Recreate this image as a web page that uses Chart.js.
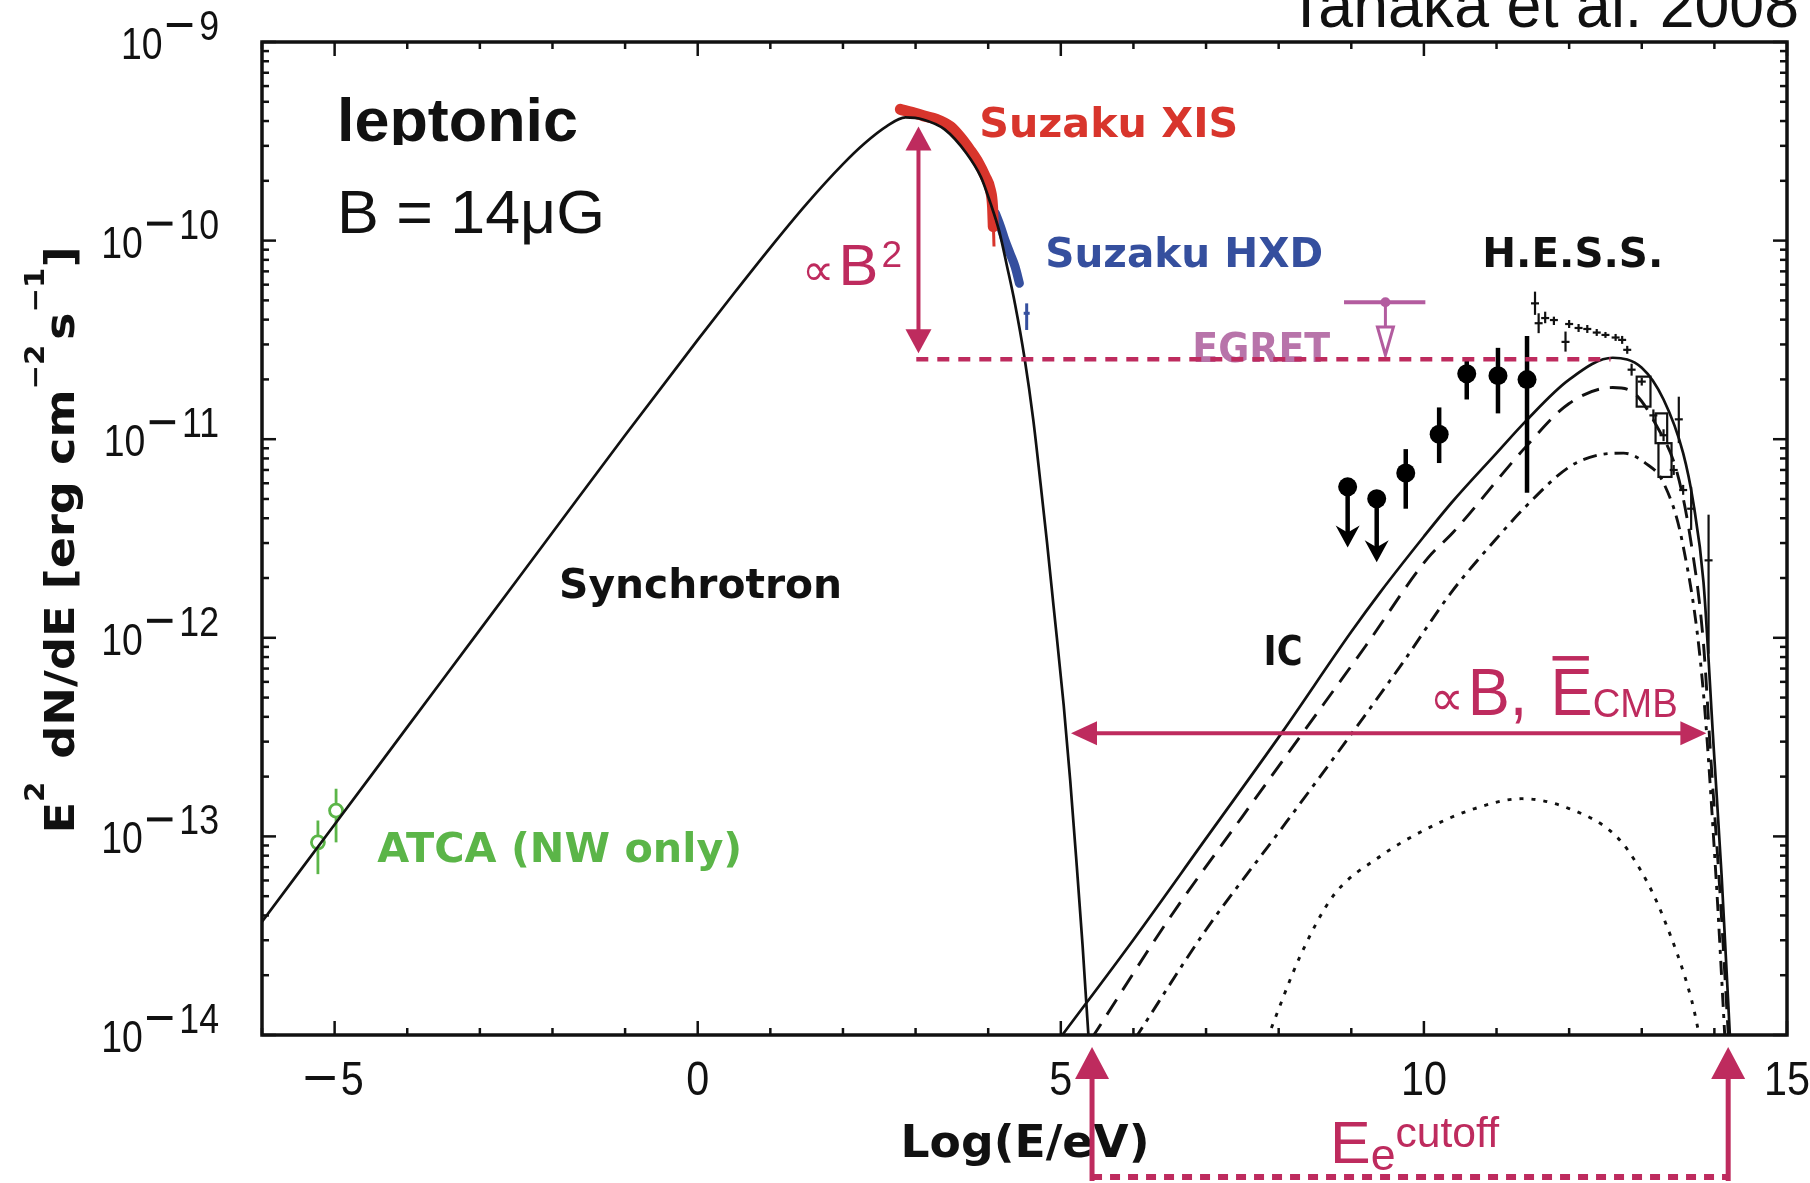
<!DOCTYPE html>
<html>
<head>
<meta charset="utf-8">
<title>Leptonic SED</title>
<script src="https://cdn.jsdelivr.net/npm/chart.js@4.4.1/dist/chart.umd.min.js"></script>
<style>
  html, body { margin: 0; padding: 0; background: #ffffff; }
  #box { position: relative; width: 1810px; height: 1183px; }
</style>
</head>
<body>
<div id="box"><canvas id="sed" width="1810" height="1183"></canvas></div>
<script>
// Energies are log10(E / eV); fluxes are log10(E^2 dN/dE / erg cm^-2 s^-1)

// Synchrotron model
const synchLogE = [-6.0, -5.0, -4.0, -3.0, -2.0, -1.0, 0.0, 0.5, 1.0, 1.5, 2.0, 2.3, 2.6, 2.86, 3.1, 3.4, 3.7, 3.9, 4.03, 4.15, 4.26, 4.37, 4.5, 4.62, 4.72, 4.81, 4.9, 5.04, 5.13, 5.22, 5.3, 5.38, 5.42];
const synchLogF = [-13.43, -12.94, -12.45, -11.96, -11.47, -10.98, -10.50, -10.265, -10.035, -9.815, -9.615, -9.51, -9.425, -9.38, -9.39, -9.44, -9.56, -9.68, -9.81, -9.95, -10.13, -10.32, -10.59, -10.90, -11.22, -11.52, -11.84, -12.34, -12.72, -13.15, -13.55, -14.0, -14.2];

// Inverse-Compton total (solid)
const icLogE = [4.98, 6.0, 7.0, 8.04, 9.0, 9.4, 10.0, 10.38, 11.0, 11.4, 12.0, 12.6, 13.0, 13.3, 13.57, 13.71, 13.85, 13.99, 14.1, 14.22];
const icLogF = [-14.02, -13.52, -13.01, -12.48, -11.97, -11.77, -11.49, -11.32, -11.07, -10.91, -10.70, -10.59, -10.64, -10.80, -11.07, -11.32, -11.72, -12.55, -13.2, -14.05];

// IC components: dashed, dash-dot, dotted
const icDashLogE = [5.42, 6.5, 7.5, 8.33, 9.2, 10.05, 10.4, 11.4, 12.0, 12.6, 12.9, 13.2, 13.48, 13.67, 13.85, 13.95, 14.08, 14.2];
const icDashLogF = [-14.02, -13.41, -12.90, -12.48, -12.04, -11.60, -11.47, -11.04, -10.82, -10.74, -10.77, -10.93, -11.16, -11.50, -12.03, -12.6, -13.3, -14.05];
const icDashDotLogE = [6.02, 7.0, 8.0, 9.01, 9.7, 10.38, 11.0, 11.4, 12.0, 12.4, 12.75, 13.05, 13.3, 13.56, 13.83, 14.02, 14.15];
const icDashDotLogF = [-14.02, -13.47, -12.98, -12.48, -12.13, -11.77, -11.50, -11.34, -11.14, -11.08, -11.07, -11.12, -11.22, -11.52, -12.2, -13.19, -14.05];
const icDotLogE = [7.84, 8.3, 8.75, 9.4, 10.05, 10.7, 11.35, 12.0, 12.65, 13.0, 13.3, 13.69, 13.82];
const icDotLogF = [-14.02, -13.6, -13.30, -13.10, -12.96, -12.86, -12.81, -12.86, -13.0, -13.18, -13.41, -13.83, -14.05];

// Suzaku XIS and HXD spectra
const xisLogE = [2.79, 2.95, 3.11, 3.29, 3.48, 3.61, 3.75, 3.87, 3.96, 4.03, 4.06, 4.07];
const xisLogF = [-9.339, -9.354, -9.372, -9.389, -9.426, -9.476, -9.544, -9.611, -9.678, -9.745, -9.829, -9.93];
const hxdLogE = [4.10, 4.17, 4.23, 4.30, 4.37, 4.43];
const hxdLogF = [-9.863, -9.93, -9.997, -10.064, -10.131, -10.215];
const hxdLastLogE = [4.53];
const hxdLastLogF = [-10.366];
const hxdLastLo = [-10.45];
const hxdLastHi = [-10.316];

// ATCA radio points
const atcaLogE = [-5.23, -4.98];
const atcaLogF = [-13.03, -12.87];
const atcaLo = [-13.19, -13.03];
const atcaHi = [-12.92, -12.76];

// GeV points (first two are upper limits)
const gevLogE = [8.95, 9.35, 9.75, 10.21, 10.59, 11.02, 11.42];
const gevLogF = [-11.24, -11.30, -11.17, -10.975, -10.67, -10.68, -10.70];
const gevLo = [-11.545, -11.62, -11.35, -11.12, -10.80, -10.87, -11.27];
const gevHi = [-11.24, -11.30, -11.05, -10.84, -10.59, -10.54, -10.48];
const gevUpperLimit = [true, true, false, false, false, false, false];

// H.E.S.S. spectrum
const hessLogE = [11.53, 11.58, 11.67, 11.79, 11.95, 12.00, 12.13, 12.25, 12.38, 12.50, 12.64, 12.73, 12.80, 12.86, 13.00, 13.16, 13.30, 13.44, 13.51, 13.57, 13.68, 13.92];
const hessLogF = [-10.316, -10.416, -10.39, -10.40, -10.51, -10.42, -10.44, -10.445, -10.463, -10.475, -10.488, -10.50, -10.55, -10.65, -10.71, -10.88, -10.98, -11.155, -10.90, -11.256, -11.35, -11.61];
const hessLo = [-10.374, -10.466, -10.416, -10.425, -10.559, -10.44, -10.46, -10.465, -10.48, -10.49, -10.505, -10.52, -10.57, -10.68, -10.73, -10.91, -11.01, -11.18, -11.02, -11.28, -11.457, -12.08];
const hessHi = [-10.257, -10.366, -10.358, -10.383, -10.458, -10.40, -10.42, -10.425, -10.445, -10.46, -10.47, -10.48, -10.53, -10.62, -10.69, -10.85, -10.95, -11.13, -10.786, -11.23, -11.24, -11.38];
// systematic boxes
const hessBoxE0 = [12.93, 13.19, 13.23];
const hessBoxE1 = [13.12, 13.35, 13.41];
const hessBoxF0 = [-10.836, -11.02, -11.19];
const hessBoxF1 = [-10.685, -10.87, -11.02];

// EGRET upper limit
const egretLogE = [9.47];
const egretLogF = [-10.31];
const egretBandE = [8.90, 10.02];
const egretLimitTo = [-10.576];

// Scaling annotations
const b2ArrowLogE = [3.04];
const b2ArrowLogF = [-9.426, -10.567];
const icPeakLevel = [-10.598];
const icPeakSpan = [3.01, 12.57];
const shiftLevel = [-12.48];
const shiftSpan = [5.14, 13.89];
const cutoffLogE = [5.43, 14.19];

// Axis ticks
const xTickLabels = [-5, 0, 5, 10, 15];
const yDecades = [-9, -10, -11, -12, -13, -14];

const INK = '#111111';
const MAG = '#BE2B5E';
const RED = '#D8352C';
const BLUE = '#354F9E';
const GREEN = '#5BB548';
const EGRET = '#B35C9F';

function pts(xs, ys) { return xs.map((x, i) => ({ x: x, y: Math.pow(10, ys[i]) })); }

function curve(label, xs, ys, dash, color, width) {
  return {
    label: label, data: pts(xs, ys), showLine: true,
    borderColor: color || INK, borderWidth: width || 2.7, borderDash: dash || [],
    pointRadius: 0, pointHoverRadius: 0, fill: false,
    tension: 0.35, cubicInterpolationMode: 'monotone',
    borderCapStyle: 'butt', borderJoinStyle: 'round'
  };
}

// draw a run of text pieces (font, vertical shift, optional rule) with horizontal scaling
function drawRun(ctx, pieces, x, y, opt) {
  ctx.save();
  let total = 0;
  const ws = pieces.map(p => {
    let w;
    if (p.rule) w = p.rule;
    else { ctx.font = p.font; w = ctx.measureText(p.t).width; }
    w += (p.gap || 0);
    total += w; return w;
  });
  const sx = opt.width ? opt.width / total : (opt.sx || 1);
  let x0 = x;
  if (opt.align === 'center') x0 = x - total * sx / 2;
  else if (opt.align === 'right') x0 = x - total * sx;
  ctx.translate(x0, y);
  ctx.scale(sx, 1);
  ctx.fillStyle = opt.color || INK;
  ctx.textAlign = 'left';
  ctx.textBaseline = 'alphabetic';
  let cx = 0;
  pieces.forEach((p, i) => {
    if (p.rule) {
      ctx.fillRect(cx, (p.dy || 0) - (p.thick || 4) / 2, p.rule, p.thick || 4);
    } else {
      ctx.font = p.font;
      ctx.fillText(p.t, cx, p.dy || 0);
      if (p.bar) {
        const w = ctx.measureText(p.t).width;
        ctx.fillRect(cx + 2, (p.dy || 0) + p.bar, w - 6, 4.5);
      }
    }
    cx += ws[i];
  });
  ctx.restore();
  return total * sx;
}

function line(ctx, x1, y1, x2, y2) { ctx.beginPath(); ctx.moveTo(x1, y1); ctx.lineTo(x2, y2); ctx.stroke(); }

function head(ctx, tx, ty, dx, dy, len, hw) {
  const bx = tx - dx * len, by = ty - dy * len;
  ctx.beginPath();
  ctx.moveTo(tx, ty);
  ctx.lineTo(bx - dy * hw, by + dx * hw);
  ctx.lineTo(bx + dy * hw, by - dx * hw);
  ctx.closePath();
  ctx.fill();
}

const LBL = 'bold 41px "DejaVu Sans"';
const plotLabels = [
  { t: 'Synchrotron', e: 0.04, f: -11.80, color: INK, w: 283 },
  { t: 'Suzaku XIS', e: 5.66, f: -9.478, color: RED, w: 259 },
  { t: 'Suzaku HXD', e: 6.70, f: -10.133, color: BLUE, w: 278 },
  { t: 'H.E.S.S.', e: 12.05, f: -10.133, color: INK, w: 181 },
  { t: 'ATCA (NW only)', e: -1.90, f: -13.13, color: GREEN, w: 365 },
  { t: 'IC', e: 8.06, f: -12.137, color: INK, w: 39 }
];

const sedPlugin = {
  id: 'sedDecor',
  beforeDatasetsDraw(chart) {
    const ctx = chart.ctx, sx = chart.scales.x, sy = chart.scales.y;
    const X = v => sx.getPixelForValue(v), Y = v => sy.getPixelForValue(Math.pow(10, v));
    ctx.save();
    // ATCA error bars (behind the open circles)
    ctx.strokeStyle = GREEN; ctx.lineWidth = 2.8;
    atcaLogE.forEach((e, i) => line(ctx, X(e), Y(atcaLo[i]), X(e), Y(atcaHi[i])));
    // EGRET label sits under the dashed level line
    drawRun(ctx, [{ t: 'EGRET', font: LBL }], X(7.76), Y(-10.611), { align: 'center', width: 138, color: '#B874AA' });
    ctx.restore();
  },
  afterDatasetsDraw(chart) {
    const ctx = chart.ctx, sx = chart.scales.x, sy = chart.scales.y, ca = chart.chartArea;
    const X = v => sx.getPixelForValue(v), Y = v => sy.getPixelForValue(Math.pow(10, v));
    ctx.save();
    ctx.beginPath(); ctx.rect(ca.left, ca.top, ca.right - ca.left, ca.bottom - ca.top); ctx.clip();

    // XIS faint tail
    ctx.strokeStyle = RED; ctx.lineWidth = 3;
    line(ctx, X(4.07), Y(-9.90), X(4.08), Y(-10.03));

    // HXD last point
    ctx.strokeStyle = BLUE; ctx.lineWidth = 3;
    hxdLastLogE.forEach((e, i) => {
      line(ctx, X(e), Y(hxdLastLo[i]), X(e), Y(hxdLastHi[i]));
      line(ctx, X(e) - 3, Y(hxdLastLogF[i]), X(e) + 3, Y(hxdLastLogF[i]));
    });

    // H.E.S.S. spectrum
    ctx.strokeStyle = INK; ctx.lineWidth = 2.2;
    hessLogE.forEach((e, i) => {
      line(ctx, X(e), Y(hessLo[i]), X(e), Y(hessHi[i]));
      line(ctx, X(e) - 4, Y(hessLogF[i]), X(e) + 4, Y(hessLogF[i]));
    });
    hessBoxE0.forEach((e, i) => {
      const x0 = X(e), x1 = X(hessBoxE1[i]), y0 = Y(hessBoxF1[i]), y1 = Y(hessBoxF0[i]);
      ctx.strokeRect(x0, y0, x1 - x0, y1 - y0);
    });

    // GeV points: error bars and upper-limit arrows
    ctx.strokeStyle = '#000'; ctx.fillStyle = '#000'; ctx.lineWidth = 4.5;
    gevLogE.forEach((e, i) => {
      const px = X(e);
      if (gevUpperLimit[i]) {
        const yEnd = Y(gevLo[i]);
        line(ctx, px, Y(gevLogF[i]), px, yEnd - 14);
        ctx.beginPath();
        ctx.moveTo(px, yEnd);
        ctx.lineTo(px - 12, yEnd - 22);
        ctx.lineTo(px, yEnd - 15);
        ctx.lineTo(px + 12, yEnd - 22);
        ctx.closePath(); ctx.fill();
      } else {
        line(ctx, px, Y(gevLo[i]), px, Y(gevHi[i]));
      }
    });

    // EGRET upper limit
    ctx.strokeStyle = EGRET; ctx.fillStyle = EGRET; ctx.lineWidth = 4;
    const ey = Y(egretLogF[0]), ex = X(egretLogE[0]);
    line(ctx, X(egretBandE[0]), ey, X(egretBandE[1]), ey);
    ctx.beginPath(); ctx.arc(ex, ey, 5, 0, Math.PI * 2); ctx.fill();
    const tip = Y(egretLimitTo[0]);
    ctx.lineWidth = 3;
    line(ctx, ex, ey, ex, tip - 28);
    ctx.beginPath();
    ctx.moveTo(ex - 8, tip - 28); ctx.lineTo(ex + 8, tip - 28); ctx.lineTo(ex, tip); ctx.closePath();
    ctx.fillStyle = '#fff'; ctx.fill(); ctx.stroke();
    ctx.restore();
  },
  afterDraw(chart) {
    const ctx = chart.ctx, sx = chart.scales.x, sy = chart.scales.y, ca = chart.chartArea;
    const X = v => sx.getPixelForValue(v), Y = v => sy.getPixelForValue(Math.pow(10, v));
    ctx.save();

    // frame with inward ticks on all four sides
    ctx.strokeStyle = INK; ctx.lineWidth = 2.5;
    for (let v = -6; v <= 15; v++) {
      const px = X(v), len = (v % 5 === 0) ? 14 : 7;
      line(ctx, px, ca.bottom, px, ca.bottom - len);
      line(ctx, px, ca.top, px, ca.top + len);
    }
    for (let d = -14; d <= -9; d++) {
      for (let m = 1; m <= 9; m++) {
        if (d === -9 && m > 1) break;
        const py = sy.getPixelForValue(m * Math.pow(10, d)), len = (m === 1) ? 14 : 7;
        line(ctx, ca.left, py, ca.left + len, py);
        line(ctx, ca.right, py, ca.right - len, py);
      }
    }
    ctx.lineWidth = 3.5;
    ctx.strokeRect(ca.left, ca.top, ca.right - ca.left, ca.bottom - ca.top);

    // tick labels
    const NUM = '48px "Liberation Sans"';
    xTickLabels.forEach(v => {
      const pieces = [];
      if (v < 0) pieces.push({ rule: 34, gap: 7, dy: -17, thick: 4 });
      pieces.push({ t: String(Math.abs(v)), font: NUM });
      drawRun(ctx, pieces, X(v), ca.bottom + 60, { align: 'center', sx: 0.86 });
    });
    const YB = '44px "Liberation Sans"', YS = '42px "Liberation Sans"';
    yDecades.forEach(d => {
      const py = Y(d);
      drawRun(ctx, [
        { t: '10', font: YB, gap: 5 },
        { rule: 30, gap: 8, dy: -34, thick: 4 },
        { t: String(Math.abs(d)), font: YS, dy: -19 }
      ], ca.left - 43, py + 17, { align: 'right', sx: 0.85 });
    });

    // axis titles
    drawRun(ctx, [{ t: 'Log(E/eV)', font: 'bold 44px "DejaVu Sans"' }], 1025, ca.bottom + 122, { align: 'center', width: 249 });
    ctx.save();
    ctx.translate(74, 540);
    ctx.rotate(-Math.PI / 2);
    const T = 'bold 41px "DejaVu Sans"', S = 'bold 26px "DejaVu Sans"';
    drawRun(ctx, [
      { t: 'E', font: T }, { t: '2', font: S, dy: -30, gap: 6 },
      { t: ' dN/dE [erg cm', font: T }, { t: '\u22122', font: S, dy: -30, gap: 4 },
      { t: 's', font: T }, { t: '\u22121', font: S, dy: -30 },
      { t: ']', font: T }
    ], 0, 0, { align: 'center', width: 587 });
    ctx.restore();

    // curve and instrument labels
    plotLabels.forEach(l => {
      drawRun(ctx, [{ t: l.t, font: LBL }], X(l.e), Y(l.f), { align: 'center', width: l.w, color: l.color });
    });

    // model summary text
    ctx.save();
    ctx.beginPath(); ctx.rect(0, 0, 1810, 145); ctx.clip();
    drawRun(ctx, [{ t: 'leptonic', font: 'bold 62px "Liberation Sans"' }], ca.left + 75, 141, { width: 241 });
    ctx.restore();
    drawRun(ctx, [{ t: 'B = 14\u03bcG', font: '62px "Liberation Sans"' }], ca.left + 75, 233, { width: 268 });
    drawRun(ctx, [{ t: 'Tanaka et al. 2008', font: '64px "Liberation Sans"' }], 1799, 27, { align: 'right', width: 512 });

    // ---- magenta scaling annotations ----
    ctx.strokeStyle = MAG; ctx.fillStyle = MAG;

    // synchrotron peak ~ B^2
    const bx = X(b2ArrowLogE[0]), by0 = Y(b2ArrowLogF[0]), by1 = Y(b2ArrowLogF[1]);
    ctx.lineWidth = 4;
    line(ctx, bx, by0 + 20, bx, by1 - 20);
    head(ctx, bx, by0, 0, -1, 24, 13);
    head(ctx, bx, by1, 0, 1, 24, 13);
    const MF = '"Liberation Sans", "DejaVu Sans"';
    drawRun(ctx, [
      { t: '\u221d', font: '44px ' + MF, gap: 4 },
      { t: 'B', font: '58px ' + MF, gap: 3 },
      { t: '2', font: '36px ' + MF, dy: -18 }
    ], 802, Y(-10.224), { width: 100, color: MAG });

    // IC peak level
    ctx.lineWidth = 4.5; ctx.setLineDash([12, 9]);
    const ly = Y(icPeakLevel[0]);
    line(ctx, X(icPeakSpan[0]), ly, X(icPeakSpan[1]), ly);
    ctx.setLineDash([]);

    // horizontal shift ~ B, mean CMB energy
    const hy = Y(shiftLevel[0]), hx0 = X(shiftSpan[0]), hx1 = X(shiftSpan[1]);
    ctx.lineWidth = 4;
    line(ctx, hx0 + 20, hy, hx1 - 20, hy);
    head(ctx, hx0, hy, -1, 0, 26, 12);
    head(ctx, hx1, hy, 1, 0, 26, 12);
    drawRun(ctx, [
      { t: '\u221d', font: '50px ' + MF, gap: 4 },
      { t: 'B, ', font: '66px ' + MF, gap: 6 },
      { t: 'E', font: '66px ' + MF, bar: -59 },
      { t: 'CMB', font: '40px ' + MF, dy: 2 }
    ], X(10.08), Y(-12.389), { width: 248, color: MAG });

    // electron cutoff arrows below the axis
    ctx.lineWidth = 5;
    const aTip = ca.bottom + 12, aEnd = 1181;
    cutoffLogE.forEach(e => {
      const ax = X(e);
      line(ctx, ax, aEnd, ax, aTip + 26);
      head(ctx, ax, aTip, 0, -1, 32, 17);
    });
    ctx.lineWidth = 6; ctx.setLineDash([10, 8]);
    line(ctx, X(cutoffLogE[0]), 1177, X(cutoffLogE[1]), 1177);
    ctx.setLineDash([]);
    drawRun(ctx, [
      { t: 'E', font: '60px ' + MF },
      { t: 'e', font: '44px ' + MF, dy: 7 },
      { t: 'cutoff', font: '42px ' + MF, dy: -16 }
    ], 1330, ca.bottom + 128, { width: 169, color: MAG });

    ctx.restore();
  }
};

const datasets = [
  curve('Synchrotron', synchLogE, synchLogF, []),
  curve('IC', icLogE, icLogF, []),
  curve('IC component 1', icDashLogE, icDashLogF, [18, 11], INK, 2.9),
  curve('IC component 2', icDashDotLogE, icDashDotLogF, [14, 7, 4, 7], INK, 2.9),
  curve('IC component 3', icDotLogE, icDotLogF, [4, 8], INK, 2.9),
  Object.assign(curve('Suzaku XIS', xisLogE, xisLogF, [], RED, 11), { borderCapStyle: 'round' }),
  Object.assign(curve('Suzaku HXD', hxdLogE, hxdLogF, [], BLUE, 9), { borderCapStyle: 'round' }),
  {
    label: 'GeV', data: pts(gevLogE, gevLogF), showLine: false,
    pointRadius: 9.5, pointBackgroundColor: '#000', pointBorderColor: '#000', pointBorderWidth: 0
  },
  {
    label: 'ATCA', data: pts(atcaLogE, atcaLogF), showLine: false,
    pointRadius: 6.5, pointBackgroundColor: '#ffffff', pointBorderColor: GREEN, pointBorderWidth: 2.8
  }
];

new Chart(document.getElementById('sed'), {
  type: 'scatter',
  data: { datasets: datasets },
  options: {
    responsive: false,
    animation: false,
    devicePixelRatio: 1,
    layout: { padding: { top: 42, right: 23, left: 0, bottom: 0 } },
    plugins: { legend: { display: false }, tooltip: { enabled: false } },
    events: [],
    scales: {
      x: {
        type: 'linear', min: -6, max: 15,
        ticks: { display: false }, grid: { display: false }, border: { display: false },
        afterFit: s => { s.height = 148; }
      },
      y: {
        type: 'logarithmic', min: 1e-14, max: 1e-9,
        ticks: { display: false }, grid: { display: false }, border: { display: false },
        afterFit: s => { s.width = 262; }
      }
    }
  },
  plugins: [sedPlugin]
});
</script>
</body>
</html>
